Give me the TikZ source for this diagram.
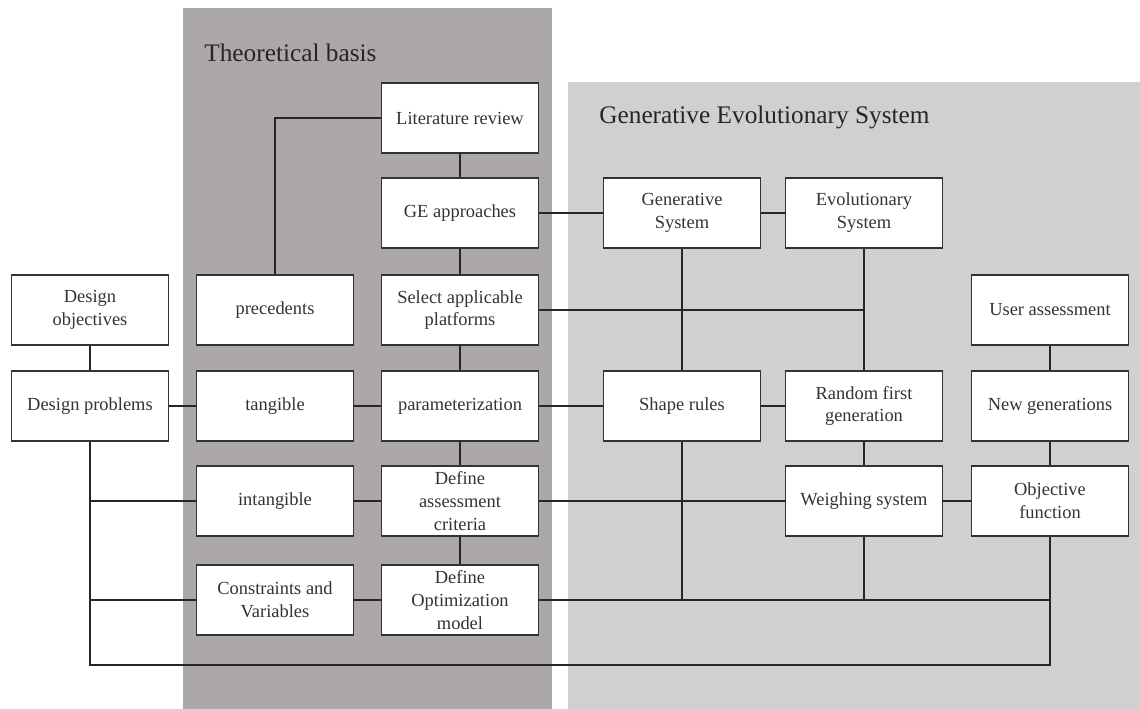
\documentclass[tikz,border=0pt]{standalone}
\usepackage{fontspec}
\setmainfont{Liberation Serif}
\usepackage{tikz}

\definecolor{basisgray}{RGB}{172,168,167}
\definecolor{gesgray}{RGB}{209,207,208}

\begin{document}
\begin{tikzpicture}[
            x=0.02cm, y=-0.02cm, % one unit is one pixel of the figure
            box/.style={draw=black!80, line width=0.9pt, fill=white, text=black!80,
                minimum width=3.14cm, minimum height=1.4cm, inner sep=1pt,
                align=center, font=\fontsize{10.5}{13}\selectfont}, % white boxes
            panel title/.style={anchor=west, inner sep=0pt, text=black!85,
                font=\fontsize{14.4}{16}\selectfont}, % panel headings
            link/.style={draw=black!85, line width=0.8pt} % plain connectors
            ]

                \useasboundingbox (0,0) rectangle (1140,709);

                % Grey panels behind the boxes
                \fill[basisgray] (183,8) rectangle (552,709);
                \fill[gesgray] (568,82) rectangle (1140,709);
                \node[panel title] (basis) at (204,53) {Theoretical basis};
                \node[panel title] (ges) at (599,117) {Generative Evolutionary System};

                % Design column on the left
                \node[box] (dobj) at (90,310) {Design\\objectives};
                \node[box] (dprob) at (90,406) {Design problems};

                % Theoretical basis
                \node[box] (prec) at (275,310) {precedents};
                \node[box] (tang) at (275,406) {tangible};
                \node[box] (intg) at (275,501) {intangible};
                \node[box] (cons) at (275,600) {Constraints and\\Variables};
                \node[box] (lit) at (460,118) {Literature review};
                \node[box] (ge) at (460,213) {GE approaches};
                \node[box] (sel) at (460,310) {Select applicable\\platforms};
                \node[box] (par) at (460,406) {parameterization};
                \node[box] (dac) at (460,501) {Define\\assessment\\criteria};
                \node[box] (dom) at (460,600) {Define\\Optimization\\model};

                % Generative Evolutionary System
                \node[box] (gen) at (682,213) {Generative\\System};
                \node[box] (shp) at (682,406) {Shape rules};
                \node[box] (evo) at (864,213) {Evolutionary\\System};
                \node[box] (rfg) at (864,406) {Random first\\generation};
                \node[box] (wei) at (864,501) {Weighing system};
                \node[box] (usr) at (1050,310) {User assessment};
                \node[box] (newg) at (1050,406) {New generations};
                \node[box] (obj) at (1050,501) {Objective\\function};
                \coordinate (bottom) at (90,665);

                % Connectors
                \draw[link] (lit.west) -| (prec.north);
                \draw[link] (lit) -- (ge) -- (sel) -- (par) -- (dac) -- (dom);
                \draw[link] (dobj) -- (dprob) -- (tang) -- (par) -- (shp) -- (rfg);
                \draw[link] (ge) -- (gen) -- (evo);
                \draw[link] (gen) -- (shp);
                \draw[link] (evo) -- (rfg) -- (wei) -- (obj) -- (newg) -- (usr);
                \draw[link] (sel.east) -- (sel.east -| evo.south);
                \draw[link] (intg) -- (dac) -- (wei);
                \draw[link] (cons) -- (dom);
                \draw[link] (dom.east) -- (dom.east -| obj.south);
                \draw[link] (shp.south) -- (shp.south |- dom.east);
                \draw[link] (wei.south) -- (wei.south |- dom.east);
                \draw[link] (dprob.south) -- (bottom) -| (obj.south);
                \draw[link] (dprob.south |- intg.west) -- (intg.west);
                \draw[link] (dprob.south |- cons.west) -- (cons.west);

            \end{tikzpicture}
\end{document}
